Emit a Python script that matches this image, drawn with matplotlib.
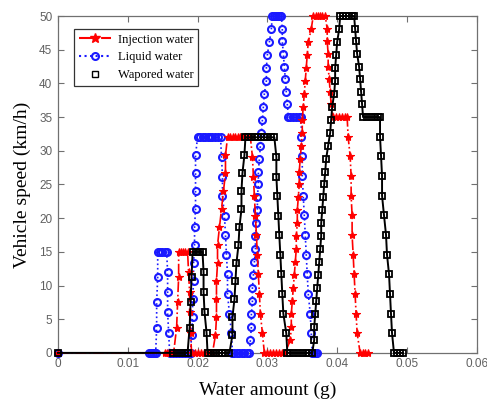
import numpy as np
import matplotlib
matplotlib.use("Agg")
import matplotlib.pyplot as plt
from matplotlib.lines import Line2D

# vehicle speed (km/h) at each sample, shared by the three curves
speed = [0,
         0, 0, 0, 0, 0,
         3.75, 7.5, 11.25, 15,
         15, 15, 15, 15,
         12, 9, 6, 3, 0,
         0, 0, 0, 0, 0, 0, 0,
         2.67, 5.33, 8, 10.67, 13.33, 16, 18.67, 21.33, 24, 26.67, 29.33, 32,
         32, 32, 32, 32, 32, 32, 32, 32, 32,
         29.09, 26.18, 23.27, 20.36, 17.45, 14.55, 11.64, 8.73, 5.82, 2.91, 0,
         0, 0, 0, 0, 0, 0, 0,
         1.92, 3.85, 5.77, 7.69, 9.62, 11.54, 13.46, 15.38, 17.31, 19.23, 21.15, 23.08, 25,
         26.92, 28.85, 30.77, 32.69, 34.62, 36.54, 38.46, 40.38, 42.31, 44.23, 46.15, 48.08, 50,
         50, 50, 50, 50, 50,
         48.13, 46.25, 44.38, 42.5, 40.63, 38.75, 36.88, 35,
         35, 35, 35, 35, 35,
         32.08, 29.17, 26.25, 23.33, 20.42, 17.5, 14.58, 11.67, 8.75, 5.83, 2.92, 0,
         0, 0, 0]

# water amount in mg
liquid_mg = [0,
             13.0, 13.29, 13.57, 13.86, 14.0,
             14.14, 14.14, 14.29, 14.29,
             14.57, 14.86, 15.29, 15.57,
             15.71, 15.71, 15.71, 15.86, 16.0,
             16.43, 16.86, 17.29, 17.71, 18.14, 18.57, 19.0,
             19.14, 19.29, 19.29, 19.43, 19.43, 19.57, 19.57, 19.71, 19.71, 19.71, 19.71, 20.0,
             20.36, 20.71, 21.07, 21.43, 21.79, 22.14, 22.5, 22.86, 23.29,
             23.43, 23.57, 23.57, 23.86, 24.0, 24.14, 24.29, 24.29, 24.57, 24.86, 25.0,
             25.29, 25.64, 26.0, 26.36, 26.71, 27.07, 27.43,
             27.57, 27.71, 27.71, 27.86, 27.86, 28.0, 28.14, 28.29, 28.29, 28.43, 28.57, 28.57, 28.71,
             28.71, 28.86, 29.0, 29.14, 29.29, 29.43, 29.57, 29.86, 29.86, 30.0, 30.29, 30.57, 30.71,
             31.0, 31.29, 31.57, 31.86, 32.0,
             32.14, 32.14, 32.29, 32.43, 32.57, 32.71, 32.86, 33.0,
             33.29, 33.71, 34.14, 34.57, 34.86,
             34.86, 35.0, 35.0, 35.14, 35.29, 35.43, 35.57, 35.71, 35.86, 36.14, 36.29, 36.43,
             36.71, 37.0, 37.14]

injection_mg = [0,
                15.29, 15.57, 15.86, 16.14, 16.57,
                17.0, 17.14, 17.29, 17.29,
                17.57, 17.86, 18.14, 18.57,
                18.71, 18.86, 18.86, 19.0, 19.14,
                19.57, 20.0, 20.43, 20.86, 21.29, 21.71, 22.14,
                22.57, 22.71, 22.71, 22.71, 22.86, 22.86, 23.14, 23.43, 23.71, 24.0, 24.0, 24.29,
                24.71, 25.07, 25.43, 25.79, 26.14, 26.5, 26.86, 27.21, 27.57,
                27.86, 28.0, 28.14, 28.29, 28.43, 28.57, 28.71, 28.86, 29.0, 29.29, 29.57,
                30.0, 30.43, 30.86, 31.29, 31.71, 32.14, 32.57,
                33.29, 33.43, 33.43, 33.57, 33.71, 33.86, 34.0, 34.14, 34.14, 34.29, 34.29, 34.43, 34.57,
                34.57, 34.71, 34.86, 35.0, 35.0, 35.14, 35.29, 35.43, 35.57, 35.71, 35.86, 36.29, 36.57,
                37.0, 37.29, 37.57, 37.86, 38.29,
                38.57, 38.57, 38.71, 38.71, 38.86, 39.0, 39.14, 39.43,
                39.86, 40.29, 40.71, 41.14, 41.43,
                41.57, 41.86, 42.0, 42.0, 42.14, 42.14, 42.29, 42.43, 42.57, 42.71, 42.86, 43.29,
                43.71, 44.0, 44.43]

vapored_mg = [0,
              16.43, 17.0, 17.57, 18.14, 18.57,
              18.86, 19.0, 19.14, 19.29,
              19.71, 20.0, 20.29, 20.71,
              20.86, 20.86, 21.0, 21.29, 21.43,
              21.86, 22.29, 22.71, 23.14, 23.57, 24.0, 24.57,
              25.0, 25.0, 25.29, 25.43, 25.57, 25.86, 26.0, 26.29, 26.29, 26.43, 26.71, 26.86,
              27.29, 27.71, 28.29, 28.71, 29.14, 29.57, 30.0, 30.57, 31.0,
              31.29, 31.29, 31.43, 31.57, 31.71, 31.86, 32.0, 32.14, 32.29, 32.71, 32.86,
              33.29, 33.86, 34.43, 35.0, 35.57, 36.0, 36.43,
              36.71, 36.71, 36.86, 37.0, 37.14, 37.29, 37.43, 37.57, 37.71, 37.71, 37.86, 38.0, 38.14,
              38.29, 38.43, 38.71, 39.0, 39.14, 39.29, 39.57, 39.71, 39.71, 39.86, 40.0, 40.29, 40.43,
              40.86, 41.29, 41.71, 42.14, 42.43,
              42.57, 42.71, 42.86, 43.14, 43.29, 43.43, 43.57, 43.71,
              44.29, 44.86, 45.43, 45.86, 46.14,
              46.14, 46.29, 46.43, 46.43, 46.71, 47.0, 47.14, 47.43, 47.57, 47.71, 47.86, 48.14,
              48.57, 49.0, 49.43]

labels = ['Injection water', 'Liquid water', 'Wapored water']

liquid = np.array(liquid_mg) / 1000
injection = np.array(injection_mg) / 1000
vapored = np.array(vapored_mg) / 1000

fig = plt.figure(figsize=(4.87, 4.01), dpi=100)
ax = fig.add_axes([0.119, 0.12, 0.86, 0.84])

ax.plot(liquid, speed, linestyle=':', color='#1a1aff', linewidth=1.2,
        marker='o', markersize=5, markerfacecolor='none',
        markeredgecolor='#1a1aff', markeredgewidth=1.5, clip_on=False, zorder=3)
ax.plot(injection, speed, linestyle='-.', color='#ff0000', linewidth=1.2,
        marker='*', markersize=6, markerfacecolor='#ff0000',
        markeredgecolor='#ff0000', markeredgewidth=0.8, clip_on=False, zorder=4)
ax.plot(vapored, speed, linestyle='-', color='black', linewidth=1.4,
        marker='s', markersize=5, markerfacecolor='none',
        markeredgecolor='black', markeredgewidth=1.3, clip_on=False, zorder=5)

handles = [
    Line2D([], [], linestyle='-.', color='#ff0000', linewidth=1.5, marker='*',
           markersize=7, markerfacecolor='#ff0000'),
    Line2D([], [], linestyle=':', color='#1a1aff', linewidth=1.5, marker='o',
           markersize=5, markerfacecolor='none', markeredgewidth=1.5),
    Line2D([], [], linestyle='none', color='black', marker='s', markersize=5,
           markerfacecolor='none', markeredgewidth=1.0),
]
leg = ax.legend(handles, labels, loc='upper left', bbox_to_anchor=(0.038, 0.962),
                borderaxespad=0,
                prop={'family': 'Liberation Serif', 'size': 9},
                frameon=True, fancybox=False, edgecolor='black',
                handlelength=2.6, borderpad=0.4, labelspacing=0.45, handletextpad=0.5)
leg.get_frame().set_linewidth(0.9)
leg.set_zorder(6)

ax.set_xlim(0, 0.06)
ax.set_ylim(0, 50)
ax.set_xticks([0, 0.01, 0.02, 0.03, 0.04, 0.05, 0.06])
ax.set_xticklabels(['0', '0.01', '0.02', '0.03', '0.04', '0.05', '0.06'])
ax.set_yticks(range(0, 51, 5))
ax.tick_params(direction='in', top=True, right=True, length=4, width=0.8,
               labelsize=8.5, labelcolor='#606060', color='#707070', pad=4)
for lbl in ax.get_xticklabels() + ax.get_yticklabels():
    lbl.set_family('Liberation Sans')
for sp in ax.spines.values():
    sp.set_color('#707070')
    sp.set_linewidth(0.9)

ax.set_xlabel('Water amount (g)', family='Liberation Serif', size=14, labelpad=8)
ax.set_ylabel('Vehicle speed (km/h)', family='Liberation Serif', size=14, labelpad=6)

fig.savefig('out.png', dpi=100)
